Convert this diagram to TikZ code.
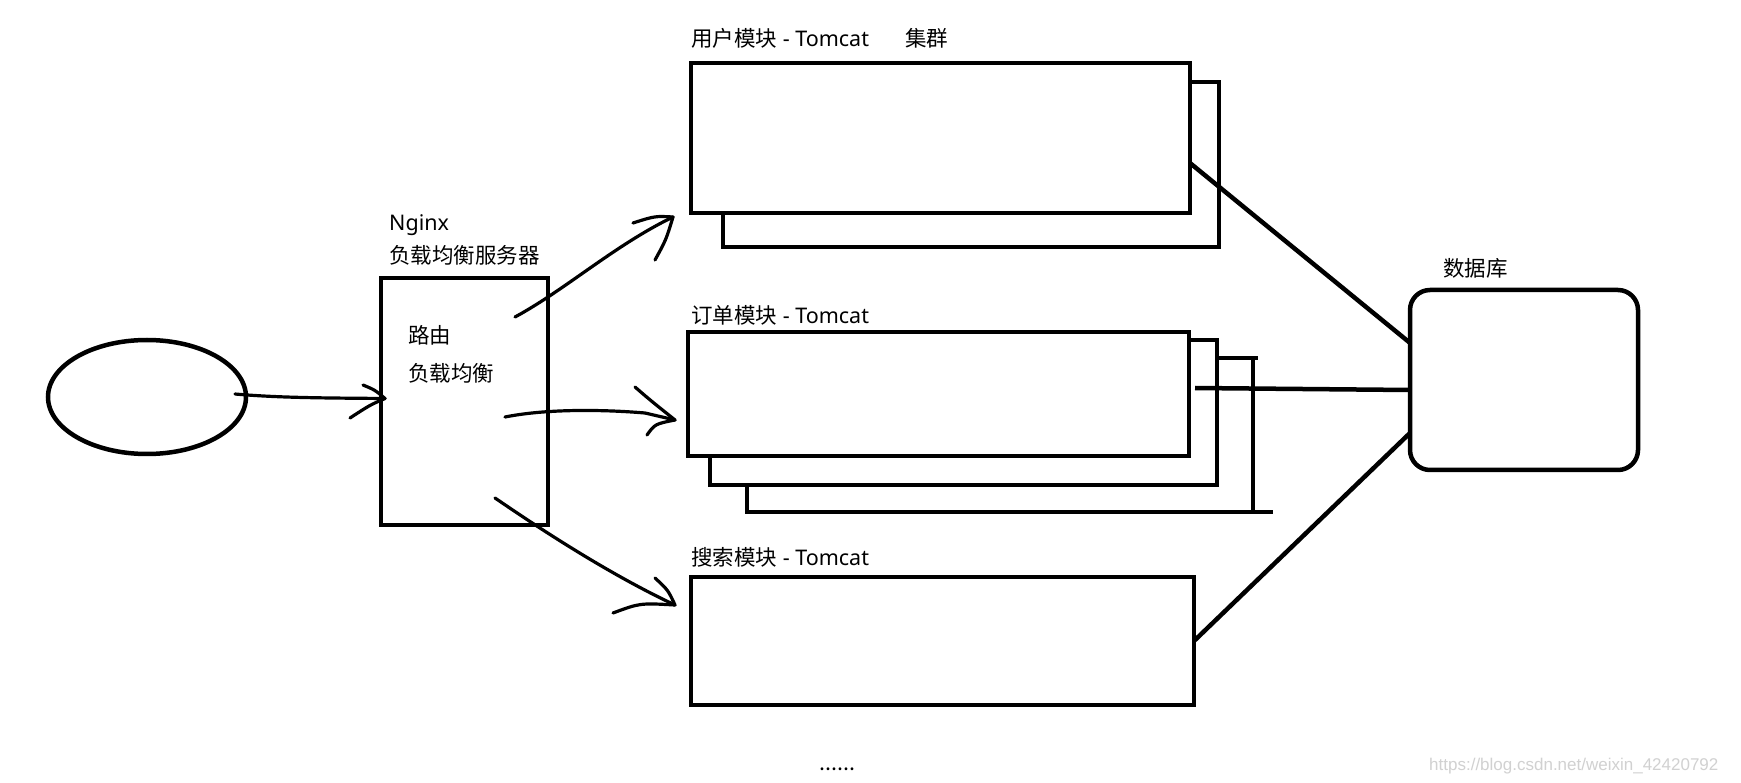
\documentclass[tikz,border=0pt]{standalone}
\usepackage{fontspec}
\setmainfont{Noto Sans CJK SC}
\newfontfamily\latin{Noto Sans}
\newfontfamily\wmfont{Liberation Sans}
\usetikzlibrary{shapes.geometric,calc}
\begin{document}
\begin{tikzpicture}[x=1pt,y=-1pt,
  box/.style={draw=black,line width=4.5pt,fill=white,inner sep=0pt,outer sep=0pt},
  lbl/.style={anchor=west,inner sep=0pt,font=\fontsize{21.5}{25}\selectfont},
  link/.style={line width=4.5pt},
  hand/.style={line width=3.2pt,line cap=round,line join=round}]
\useasboundingbox[fill=white] (0,0) rectangle (1741,783);

% client ellipse
\node[ellipse,draw=black,line width=4.5pt,minimum width=198,minimum height=114,inner sep=0pt,outer sep=0pt] (client) at (147,397) {};

% nginx
\node[box,minimum width=167,minimum height=247] (nginx) at (464.5,401.5) {};
\node[lbl] (tnginx) at (389,225) {\latin Nginx};
\node[lbl] (tlb) at (389,255) {负载均衡服务器};
\node[lbl] (troute) at (408,335) {路由};
\node[lbl] (tlb2) at (408,373) {负载均衡};

% user module cluster
\node[box,minimum width=496,minimum height=165] (userb) at (971,164.5) {};
\node[box,minimum width=499,minimum height=150] (user) at (940.5,138) {};
\node[lbl] (tuser) at (691,38) {用户模块{\latin\ - Tomcat}};
\node[lbl] (tcluster) at (905,38) {集群};

% order module cluster
\node[box,minimum width=506,minimum height=154] (orderc) at (1000,435) {};
\node[box,minimum width=507,minimum height=145] (orderb) at (963.5,412.5) {};
\node[box,minimum width=501,minimum height=124] (order) at (938.5,394) {};
\draw[link] (orderc.north east) -- ++(5,0);
\draw[link] (orderc.south east) -- ++(20,0);
\node[lbl] (torder) at (691,315) {订单模块{\latin\ - Tomcat}};

% search module
\node[box,minimum width=503,minimum height=128] (search) at (942.5,641) {};
\node[lbl] (tsearch) at (691,557) {搜索模块{\latin\ - Tomcat}};

% database
\node[box,rounded corners=20pt,minimum width=228,minimum height=180] (db) at (1524,380) {};
\node[lbl] (tdb) at (1443,268) {数据库};

% links to database
\draw[link] ($(user.north east)!0.667!(user.south east)$) -- ($(db.north west)!0.294!(db.south west)$);
\draw[link] ($(order.east)+(6,-6)$) -- ($(db.west)+(0,10)$);
\draw[link] (search.east) -- ($(db.west)+(0,53)$);

% client -> nginx
\coordinate (c0) at (235,394);
\coordinate (c1) at ($(nginx.west)+(4,-3)$);
\draw[hand] (c0) .. controls (280,398) and (330,398) .. (c1);
\draw[hand] (363,385) .. controls (375,390) .. (c1) .. controls (370,405) .. (350,418);

% nginx -> user
\coordinate (a0) at (515,317);
\coordinate (a1) at (673,217);
\draw[hand] (a0) .. controls (565,290) and (615,245) .. (a1);
\draw[hand] (633,223) .. controls (655,216) .. (a1) .. controls (666,240) .. (655,260);

% nginx -> order
\coordinate (b0) at (505,417);
\coordinate (b1) at (675,420);
\draw[hand] (b0) .. controls (550,408) and (610,410) .. (645,413) -- (b1);
\draw[hand] (635,387) .. controls (650,400) .. (b1) .. controls (655,424) .. (647,435);

% nginx -> search
\coordinate (d0) at (495,498);
\coordinate (d1) at (675,605);
\draw[hand] (d0) .. controls (520,515) and (600,570) .. (d1);
\draw[hand] (655,578) .. controls (668,590) .. (d1) .. controls (640,603) .. (613,613);

% ellipsis and watermark
\node[anchor=base west,inner sep=0pt,font=\fontsize{21.5}{25}\selectfont] (dots) at (819,770) {......};
\node[anchor=west,inner sep=0pt,text=black!18,font=\wmfont\fontsize{17}{20}\selectfont] (wm) at (1429,766) {https://blog.csdn.net/weixin\_42420792};
\end{tikzpicture}
\end{document}
